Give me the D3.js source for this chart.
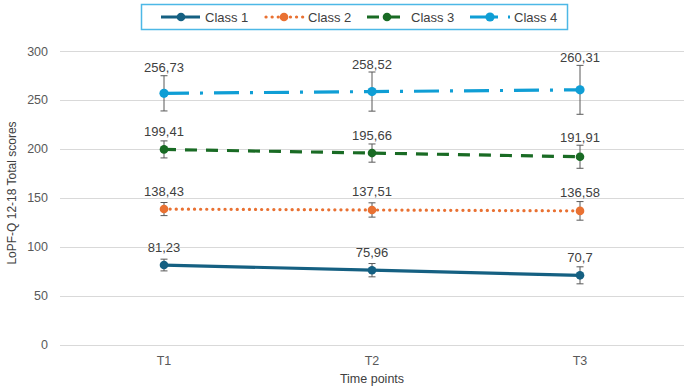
<!DOCTYPE html>
<html>
<head>
<meta charset="utf-8">
<script src="https://cdn.jsdelivr.net/npm/d3@7"></script>
<style>
  body { margin: 0; background: #fff; }
  text { font-family: "Liberation Sans", Arial, sans-serif; fill: #404040; }
</style>
</head>
<body>
<svg id="chart" width="686" height="388"></svg>
<script>
// data
var timePoints = ["T1", "T2", "T3"];
var classNames = ["Class 1", "Class 2", "Class 3", "Class 4"];
var class1 = [81.23, 75.96, 70.7];
var class2 = [138.43, 137.51, 136.58];
var class3 = [199.41, 195.66, 191.91];
var class4 = [256.73, 258.52, 260.31];
var err1 = [6, 6.8, 8.7];
var err2 = [6.7, 7.3, 9.5];
var err3 = [8.7, 9.3, 11.8];
var err4 = [18, 20, 25];
var labels1 = ["81,23", "75,96", "70,7"];
var labels2 = ["138,43", "137,51", "136,58"];
var labels3 = ["199,41", "195,66", "191,91"];
var labels4 = ["256,73", "258,52", "260,31"];
var yTicks = [0, 50, 100, 150, 200, 250, 300];

var styles = [
  { color: "#156082", dash: null, cap: "butt", r: 4.3 },
  { color: "#E97132", dash: "0.1,6", cap: "round", r: 4.3 },
  { color: "#196B24", dash: "12,9", cap: "butt", r: 4.3 },
  { color: "#0F9ED5", dash: "25,11,3,11", cap: "butt", r: 4.6 }
];

var series = [class1, class2, class3, class4].map(function(vals, i) {
  var errs = [err1, err2, err3, err4][i];
  var labs = [labels1, labels2, labels3, labels4][i];
  return {
    name: classNames[i],
    style: styles[i],
    points: vals.map(function(v, j) {
      return { t: timePoints[j], v: v, e: errs[j], label: labs[j] };
    })
  };
});

var svg = d3.select("#chart");

var x = d3.scaleBand()
  .domain(timePoints)
  .range([60, 684]);

var y = d3.scaleLinear()
  .domain([0, 300])
  .range([344.5, 51]);

function cx(d) { return x(d.t) + x.bandwidth() / 2; }

// gridlines
svg.append("g")
  .selectAll("line")
  .data(yTicks)
  .enter()
  .append("line")
  .attr("x1", 60)
  .attr("x2", 684)
  .attr("y1", function(d) { return Math.round(y(d)) + 0.5; })
  .attr("y2", function(d) { return Math.round(y(d)) + 0.5; })
  .attr("stroke", "#d9d9d9")
  .attr("stroke-width", 1);

// y axis labels
var yAxis = d3.axisLeft(y).tickValues(yTicks).tickSize(0).tickPadding(0);
svg.append("g")
  .attr("class", "y axis")
  .attr("transform", "translate(48,0)")
  .call(yAxis)
  .call(function(g) { g.select(".domain").remove(); })
  .selectAll("text")
  .style("font-size", "12.5px")
  .style("fill", "#595959")
  .style("font-family", "Liberation Sans, Arial, sans-serif");

// x axis labels
var xAxis = d3.axisBottom(x).tickSize(0).tickPadding(0);
svg.append("g")
  .attr("class", "x axis")
  .attr("transform", "translate(0,356)")
  .call(xAxis)
  .call(function(g) { g.select(".domain").remove(); })
  .selectAll("text")
  .style("font-size", "12.5px")
  .style("fill", "#595959")
  .style("font-family", "Liberation Sans, Arial, sans-serif");

// axis titles
svg.append("text")
  .attr("x", 372)
  .attr("y", 383)
  .attr("text-anchor", "middle")
  .style("font-size", "12.5px")
  .text("Time points");

svg.append("text")
  .attr("transform", "translate(16,193) rotate(-90)")
  .attr("text-anchor", "middle")
  .style("font-size", "12px")
  .text("LoPF-Q 12-18 Total scores");

var line = d3.line()
  .x(cx)
  .y(function(d) { return y(d.v); });

var groups = svg.selectAll(".series")
  .data(series)
  .enter()
  .append("g")
  .attr("class", "series");

groups.append("path")
  .attr("d", function(d) { return line(d.points); })
  .attr("fill", "none")
  .attr("stroke", function(d) { return d.style.color; })
  .attr("stroke-width", 3.2)
  .attr("stroke-linecap", function(d) { return d.style.cap; })
  .attr("stroke-dasharray", function(d) { return d.style.dash; });

// error bars
var eb = groups.selectAll(".err")
  .data(function(d) { return d.points; })
  .enter()
  .append("g")
  .attr("class", "err")
  .attr("stroke", "#595959")
  .attr("stroke-width", 1);

eb.append("line")
  .attr("x1", cx).attr("x2", cx)
  .attr("y1", function(d) { return y(d.v + d.e); })
  .attr("y2", function(d) { return y(d.v - d.e); });
eb.append("line")
  .attr("x1", function(d) { return cx(d) - 3.5; })
  .attr("x2", function(d) { return cx(d) + 3.5; })
  .attr("y1", function(d) { return y(d.v + d.e); })
  .attr("y2", function(d) { return y(d.v + d.e); });
eb.append("line")
  .attr("x1", function(d) { return cx(d) - 3.5; })
  .attr("x2", function(d) { return cx(d) + 3.5; })
  .attr("y1", function(d) { return y(d.v - d.e); })
  .attr("y2", function(d) { return y(d.v - d.e); });

// markers
groups.each(function(s) {
  d3.select(this).selectAll("circle")
    .data(s.points)
    .enter()
    .append("circle")
    .attr("cx", cx)
    .attr("cy", function(d) { return y(d.v); })
    .attr("r", s.style.r)
    .attr("fill", s.style.color);
});

// data labels
groups.each(function(s) {
  d3.select(this).selectAll(".lbl")
    .data(s.points)
    .enter()
    .append("text")
    .attr("class", "lbl")
    .attr("x", cx)
    .attr("y", function(d) {
      return Math.min(y(d.v) - 18, y(d.v + d.e) - 8) + 4.5;
    })
    .attr("text-anchor", "middle")
    .style("font-size", "13px")
    .text(function(d) { return d.label; });
});

// legend
var legend = svg.append("g").attr("class", "legend");
legend.append("rect")
  .attr("x", 141.5)
  .attr("y", 4.5)
  .attr("width", 426)
  .attr("height", 25)
  .attr("fill", "#fff")
  .attr("stroke", "#4db8e6")
  .attr("stroke-width", 1.5);

var items = legend.selectAll(".item")
  .data(series)
  .enter()
  .append("g")
  .attr("class", "item")
  .attr("transform", function(d, i) { return "translate(" + (161 + i * 103) + ",17)"; });

items.append("line")
  .attr("x1", function(d, i) { return i === 1 ? 2 : 0; })
  .attr("x2", function(d, i) { return i === 3 ? 40 : 39; })
  .attr("stroke", function(d) { return d.style.color; })
  .attr("stroke-width", 3.2)
  .attr("stroke-linecap", function(d) { return d.style.cap; })
  .attr("stroke-dasharray", function(d, i) { return i === 3 ? "28,10,3,10" : d.style.dash; });

items.append("circle")
  .attr("cx", 20)
  .attr("r", function(d) { return d.style.r; })
  .attr("fill", function(d) { return d.style.color; });

items.append("text")
  .attr("x", 44)
  .attr("y", 4.5)
  .style("font-size", "13px")
  .text(function(d) { return d.name; });
</script>
</body>
</html>
